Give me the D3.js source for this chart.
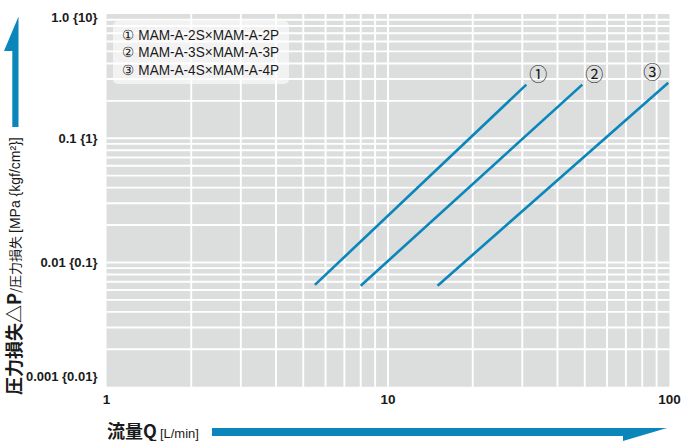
<!DOCTYPE html>
<html><head><meta charset="utf-8">
<script src="https://cdn.jsdelivr.net/npm/d3@7"></script>
<style>
html,body{margin:0;padding:0;background:#fff;}
svg{display:block;}
</style></head>
<body>
<svg id="chart" width="691" height="441"></svg>
<script>
// ---- data ----
const xTickValues = [1, 10, 100];
const xTickLabels = ["1", "10", "100"];
const yTickValues = [1, 0.1, 0.01, 0.001];
const yTickLabels = ["1.0 {10}", "0.1 {1}", "0.01 {0.1}", "0.001 {0.01}"];
const seriesMarks = ["①", "②", "③"];
const legendLabels = ["① MAM-A-2S×MAM-A-2P", "② MAM-A-3S×MAM-A-3P", "③ MAM-A-4S×MAM-A-4P"];
const flow1 = [5.5, 31];   const dp1 = [0.0066, 0.27];
const flow2 = [8.0, 49];   const dp2 = [0.0065, 0.27];
const flow3 = [15.0, 99];  const dp3 = [0.0065, 0.28];

const series = [
  flow1.map((q, i) => ({q, p: dp1[i]})),
  flow2.map((q, i) => ({q, p: dp2[i]})),
  flow3.map((q, i) => ({q, p: dp3[i]}))
];

const svg = d3.select("#chart");
const blue = "#0a86bb";
const ink = "#1a1a1a";
const narrow = "'Liberation Sans Narrow','Arial Narrow','Liberation Sans',Arial,sans-serif";
const cjk = "'Noto Sans CJK JP','Noto Sans',sans-serif";

const x = d3.scaleLog().domain([1, 100]).range([106.5, 669.5]);
const y = d3.scaleLog().domain([0.001, 1]).range([386.7, 14]);

// background
svg.append("rect")
  .attr("x", x.range()[0]).attr("y", y.range()[1])
  .attr("width", x.range()[1] - x.range()[0])
  .attr("height", y.range()[0] - y.range()[1])
  .attr("fill", "#dcdddd");

// grid
const [x0, x1] = x.domain();
const [y0, y1] = y.domain();
const xg = x.ticks().filter(v => v > x0 && v < x1);
const yg = y.ticks().filter(v => v > y0 && v < y1);
const grid = svg.append("g").attr("stroke", "#fff").attr("stroke-width", 1.9);
grid.selectAll("line.v").data(xg).join("line").attr("class", "v")
  .attr("x1", d => x(d)).attr("x2", d => x(d))
  .attr("y1", y.range()[1]).attr("y2", y.range()[0]);
grid.selectAll("line.h").data(yg).join("line").attr("class", "h")
  .attr("y1", d => y(d)).attr("y2", d => y(d))
  .attr("x1", x.range()[0]).attr("x2", x.range()[1]);

// legend box
const lg = svg.append("g");
lg.append("rect").attr("x", 113).attr("y", 21).attr("width", 176).attr("height", 63)
  .attr("rx", 5).attr("fill", "#fff").attr("fill-opacity", 0.62);
lg.selectAll("text").data(legendLabels).join("text")
  .attr("x", 122).attr("y", (d, i) => 39.5 + i * 17.7)
  .attr("font-family", narrow).attr("font-size", 14).attr("fill", ink)
  .attr("textLength", 157).attr("lengthAdjust", "spacingAndGlyphs")
  .text(d => d);

// lines
const line = d3.line().x(d => x(d.q)).y(d => y(d.p));
svg.append("g").selectAll("path").data(series).join("path")
  .attr("d", line).attr("fill", "none").attr("stroke", blue).attr("stroke-width", 2.6);

// series marks
svg.append("g").selectAll("text").data(series).join("text")
  .attr("x", (d, i) => x(d[d.length - 1].q) + (i < 2 ? 12 : -16))
  .attr("y", (d, i) => y(d[d.length - 1].p) - 3.5)
  .attr("text-anchor", "middle")
  .attr("font-family", cjk).attr("font-size", 18).attr("fill", ink)
  .text((d, i) => seriesMarks[i]);

// y tick labels
const yTop = y.range()[1], yBot = y.range()[0];
svg.append("g").selectAll("text").data(yTickValues).join("text")
  .attr("x", 97.5)
  .attr("y", d => Math.max(yTop + 3, Math.min(yBot - 10, y(d))))
  .attr("dy", "0.36em")
  .attr("text-anchor", "end")
  .attr("font-family", narrow).attr("font-weight", "bold").attr("font-size", 13).attr("fill", ink)
  .text((d, i) => yTickLabels[i]);

// x tick labels
svg.append("g").selectAll("text").data(xTickValues).join("text")
  .attr("x", d => x(d)).attr("y", 403.5)
  .attr("text-anchor", "middle")
  .attr("font-family", narrow).attr("font-weight", "bold").attr("font-size", 13.5).attr("fill", ink)
  .text((d, i) => xTickLabels[i]);

// x title
const xt = svg.append("text").attr("x", 107).attr("y", 437.5).attr("fill", ink);
xt.append("tspan").attr("font-family", cjk).attr("font-weight", "bold").attr("font-size", 18).text("流量Q");
xt.append("tspan").attr("font-family", narrow).attr("font-size", 13).attr("dx", 3).text("[L/min]");

// y title
const yt = svg.append("text").attr("transform", "translate(21,395) rotate(-90)").attr("fill", ink);
yt.append("tspan").attr("font-family", cjk).attr("font-weight", "bold").attr("font-size", 18).text("圧力損失△P");
yt.append("tspan").attr("font-family", cjk).attr("font-size", 13).attr("dy", -1).text("/圧力損失 ");
yt.append("tspan").attr("font-family", narrow).attr("font-size", 14).text("[MPa {kgf/cm²}]");

// arrows
svg.append("path").attr("fill", blue)
  .attr("d", "M12.3,127 L12.3,51 L4,51 L18.5,16.5 L18.5,127 Z");
svg.append("path").attr("fill", blue)
  .attr("d", "M212,428 L667,428 L623,441 L623,436 L212,436 Z");
</script>
</body></html>
